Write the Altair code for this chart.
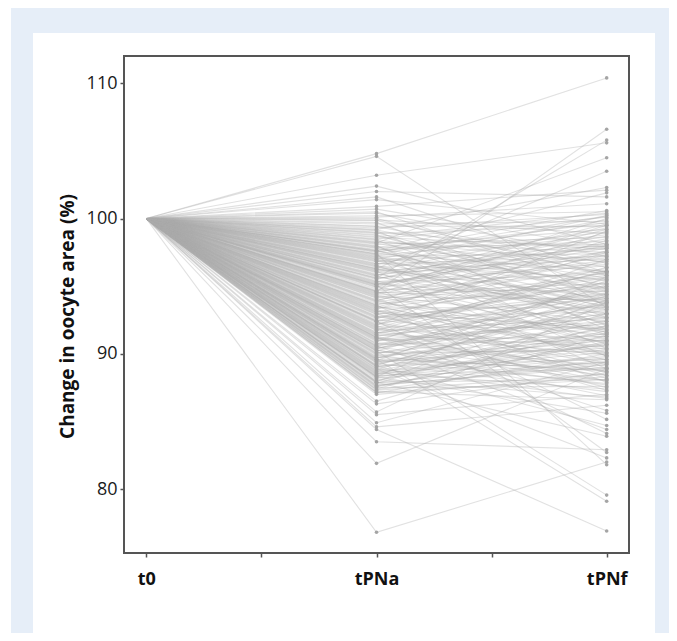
import altair as alt
import pandas as pd

# Stage labels (x positions 0, 1, 2)
stages = ["t0", "tPNa", "tPNf"]
t0_value = 100.0

# Bulk of oocytes: value at tPNa and at tPNf (% of t0 area)
tpna_bulk = [
    100.4, 100.2, 100.0, 99.9, 99.7, 99.6, 99.4, 99.3, 99.1, 99.0,
    98.9, 98.8, 98.6, 98.5, 98.4, 98.3, 98.1, 98.0, 97.9, 97.8,
    97.7, 97.6, 97.5, 97.4, 97.3, 97.2, 97.1, 97.0, 96.9, 96.8,
    96.7, 96.6, 96.5, 96.4, 96.3, 96.2, 96.1, 96.0, 95.9, 95.8,
    95.7, 95.6, 95.5, 95.4, 95.3, 95.2, 95.1, 95.0, 94.9, 94.8,
    94.7, 94.6, 94.5, 94.4, 94.3, 94.2, 94.1, 94.0, 93.9, 93.8,
    93.7, 93.6, 93.5, 93.4, 93.3, 93.2, 93.1, 93.0, 92.9, 92.8,
    92.7, 92.6, 92.5, 92.4, 92.3, 92.2, 92.1, 92.0, 91.9, 91.8,
    91.7, 91.6, 91.5, 91.4, 91.3, 91.2, 91.1, 91.0, 90.9, 90.8,
    90.7, 90.6, 90.5, 90.4, 90.3, 90.2, 90.1, 90.0, 89.9, 89.8,
    89.7, 89.6, 89.5, 89.4, 89.3, 89.2, 89.1, 89.0, 88.9, 88.8,
    88.7, 88.6, 88.5, 88.4, 88.3, 88.2, 88.1, 88.0, 87.9, 87.8,
    87.7, 87.6, 87.5, 87.4, 87.3, 87.2, 87.1, 87.0,
    99.85, 99.45, 98.95, 98.65, 98.25, 97.95, 97.55, 97.15, 96.85, 96.45,
    96.05, 95.75, 95.35, 94.95, 94.55, 94.25, 93.85, 93.45, 93.05, 92.65,
    92.35, 91.95, 91.55, 91.15, 90.75, 90.35, 89.95, 89.55, 89.15, 88.75,
    88.35, 87.95, 87.55, 87.15, 95.55, 96.25, 94.15, 93.25, 92.15, 91.35,
    97.35, 98.15, 90.55, 89.35, 96.65, 94.45, 92.95, 91.75, 90.05, 88.55,
    98.45, 97.85, 97.05, 96.15, 95.25, 94.35, 93.55, 92.75, 91.85, 91.05,
    90.25, 89.45, 88.65, 87.85, 99.15, 96.95, 95.05, 93.15, 91.45, 89.75,
    98.75, 97.25, 96.55, 95.85, 94.65, 93.95, 92.45, 91.25, 90.45, 89.05,
    88.45, 87.65, 97.65, 95.15, 93.35, 92.05, 90.95, 89.65, 88.25, 87.35,
]
tpnf_bulk = [
    97.2, 100.5, 95.8, 98.9, 93.6, 99.8, 96.4, 100.3, 91.8, 97.7,
    99.5, 94.3, 97.9, 100.1, 92.7, 96.8, 98.6, 90.4, 99.2, 95.1,
    98.3, 93.9, 100.6, 96.1, 89.8, 97.4, 94.8, 99.9, 92.2, 98.0,
    95.5, 100.2, 91.4, 97.8, 94.1, 99.3, 88.9, 96.6, 93.2, 98.7,
    92.9, 97.1, 99.6, 90.7, 95.9, 93.8, 98.2, 91.1, 96.9, 94.6,
    100.0, 89.5, 95.2, 97.6, 92.4, 94.0, 87.9, 96.3, 99.0, 91.6,
    94.9, 97.3, 90.1, 93.4, 98.4, 88.6, 95.6, 92.0, 96.0, 89.3,
    93.1, 97.5, 90.9, 94.4, 88.2, 95.3, 99.1, 91.9, 87.5, 94.2,
    92.6, 89.9, 96.2, 90.5, 93.7, 88.0, 94.7, 91.3, 97.0, 89.1,
    91.0, 94.5, 88.4, 92.8, 86.9, 95.0, 90.2, 93.3, 87.7, 91.5,
    92.3, 88.8, 95.4, 90.6, 87.2, 93.5, 89.6, 91.2, 86.7, 94.3,
    90.3, 87.4, 92.5, 88.9, 95.7, 89.4, 86.8, 91.7, 88.1, 93.0,
    89.0, 90.8, 87.6, 92.1, 88.5, 86.6, 90.0, 88.3,
    96.7, 99.4, 94.6, 100.4, 97.5, 92.1, 99.7, 95.4, 98.8, 93.0,
    97.9, 91.7, 96.5, 99.2, 93.9, 90.8, 95.8, 97.6, 91.4, 94.5,
    89.2, 96.1, 93.6, 88.7, 92.7, 95.1, 90.4, 87.8, 93.8, 91.9,
    89.7, 94.0, 90.9, 88.1, 98.5, 93.3, 96.8, 90.0, 95.5, 92.9,
    100.2, 95.6, 93.9, 91.0, 97.2, 99.5, 88.4, 96.4, 92.0, 89.8,
    95.9, 98.1, 93.5, 97.0, 91.6, 95.0, 89.9, 94.1, 90.6, 92.4,
    88.0, 91.3, 90.1, 89.4, 96.0, 93.7, 97.8, 91.8, 94.8, 88.7,
    94.2, 99.0, 92.6, 97.3, 96.1, 90.3, 95.2, 88.9, 93.0, 91.5,
    90.7, 89.2, 93.4, 98.0, 95.7, 87.3, 92.2, 94.4, 91.1, 89.6,
]

# Outlying oocytes (tPNa value, tPNf value)
tpna_outliers = [
    104.8, 104.6, 103.2, 102.4, 102.0, 101.6, 101.4, 100.9, 100.5, 100.7,
    94.6, 95.6, 98.2, 96.3, 99.2, 97.6, 100.1,
    86.5, 86.3, 85.7, 85.5, 84.9, 84.6, 84.4, 83.5, 81.9, 76.8,
    91.2, 88.3, 93.6, 89.1, 90.6, 92.4, 87.9, 95.1, 88.9, 97.4, 89.6, 90.2,
]
tpnf_outliers = [
    110.4, 93.4, 105.6, 98.1, 101.6, 96.0, 99.6, 102.1, 94.8, 97.9,
    106.6, 105.8, 104.5, 103.5, 102.3, 101.9, 101.1,
    91.4, 88.6, 93.8, 87.0, 89.4, 86.2, 76.9, 82.9, 88.9, 82.0,
    85.8, 85.6, 85.15, 84.7, 84.4, 84.1, 83.9, 82.7, 82.3, 81.8, 79.1, 79.55,
]

tpna_all = tpna_bulk + tpna_outliers
tpnf_all = tpnf_bulk + tpnf_outliers

rows = []
for i, (a, f) in enumerate(zip(tpna_all, tpnf_all)):
    rows.append({"id": i, "stage": 0, "value": t0_value})
    rows.append({"id": i, "stage": 1, "value": a})
    rows.append({"id": i, "stage": 2, "value": f})
df = pd.DataFrame(rows)

x_enc = alt.X(
    "stage:Q",
    scale=alt.Scale(domain=[-0.097, 2.097], nice=False, zero=False),
    axis=alt.Axis(
        values=[0, 0.5, 1, 1.5, 2],
        labelExpr="datum.value == 0 ? 't0' : datum.value == 1 ? 'tPNa' : datum.value == 2 ? 'tPNf' : ''",
        title=None,
        grid=False,
        domain=False,
        tickSize=4,
        tickColor="#555555",
        tickWidth=1.5,
        labelFont="Open Sans",
        labelFontSize=18,
        labelFontWeight="bold",
        labelColor="#111111",
        labelPadding=13,
        labelFlush=False,
        zindex=1,
    ),
)
y_enc = alt.Y(
    "value:Q",
    scale=alt.Scale(domain=[75.27, 112.02], nice=False, zero=False),
    axis=alt.Axis(
        values=[80, 90, 100, 110],
        title="Change in oocyte area (%)",
        titleFont="Open Sans",
        titleFontSize=19,
        titleFontWeight="bold",
        titleColor="#111111",
        titleX=-57,
        titleY=260,
        titleAngle=-90,
        titleAlign="center",
        titleBaseline="middle",
        grid=False,
        domain=False,
        tickSize=4,
        tickColor="#555555",
        tickWidth=1.5,
        labelFont="Open Sans",
        labelFontSize=18,
        labelColor="#1a1a1a",
        labelPadding=3,
        zindex=1,
    ),
)

one = pd.DataFrame({"k": [0]})
blue = "#e6eef8"

# decorative page background: blue border strips around a white panel
band_left = alt.Chart(one).mark_rect(color=blue, clip=False).encode(
    x=alt.value(-113), x2=alt.value(-91), y=alt.value(-50), y2=alt.value(600)
)
band_top = alt.Chart(one).mark_rect(color=blue, clip=False).encode(
    x=alt.value(-113), x2=alt.value(600), y=alt.value(-50), y2=alt.value(-23)
)
band_right = alt.Chart(one).mark_rect(color=blue, clip=False).encode(
    x=alt.value(531), x2=alt.value(600), y=alt.value(-50), y2=alt.value(600)
)

frame = alt.Chart(one).mark_rect(
    fill="white", fillOpacity=0, stroke="#555555", strokeWidth=2, clip=False
).encode(
    x=alt.value(0), x2=alt.value(505), y=alt.value(0), y2=alt.value(497)
)

lines = alt.Chart(df).mark_line(
    color="#acacac", strokeWidth=1.1, opacity=0.36
).encode(x=x_enc, y=y_enc, detail="id:N")

points = alt.Chart(df[df["stage"] > 0]).mark_circle(
    color="#a0a0a0", size=13, opacity=0.95
).encode(x="stage:Q", y="value:Q")

chart = alt.layer(band_left, band_top, band_right, lines, points, frame).properties(
    width=505,
    height=497,
    background="white",
    padding={"left": 116, "top": 48, "right": 40, "bottom": 80},
    autosize=alt.AutoSizeParams(type="none"),
).configure_view(
    stroke=None
)

chart.save("out.html", embed_options={"renderer": "svg", "actions": False})
